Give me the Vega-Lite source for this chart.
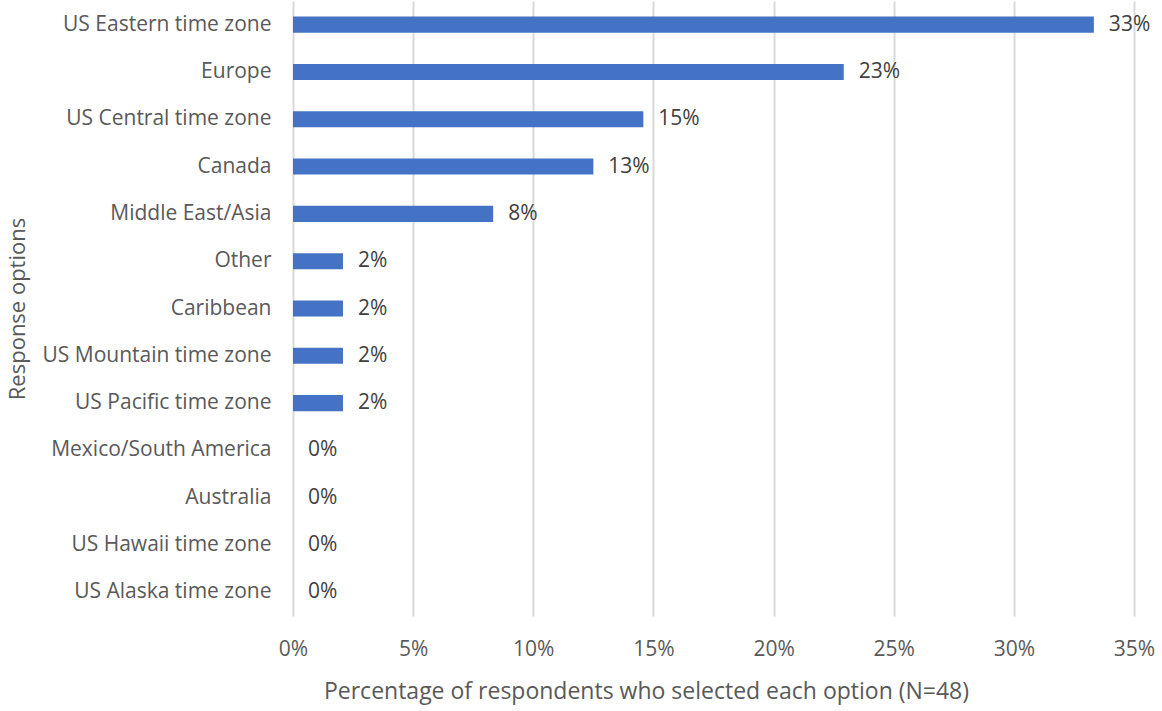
{
  "$schema": "https://vega.github.io/schema/vega-lite/v6.json",
  "autosize": "none",
  "width": 841,
  "height": 615,
  "padding": {"left": 293, "top": 1, "right": 28, "bottom": 95},
  "background": "white",
  "config": {
    "view": {"stroke": null},
    "font": "Open Sans",
    "axis": {"labelFont": "Open Sans", "titleFont": "Open Sans", "labelColor": "#595959", "titleColor": "#595959", "titleFontWeight": "normal"}
  },
  "data": {
    "values": [
      {"option": "US Eastern time zone", "pct": 0.3333},
      {"option": "Europe", "pct": 0.2292},
      {"option": "US Central time zone", "pct": 0.1458},
      {"option": "Canada", "pct": 0.125},
      {"option": "Middle East/Asia", "pct": 0.0833},
      {"option": "Other", "pct": 0.0208},
      {"option": "Caribbean", "pct": 0.0208},
      {"option": "US Mountain time zone", "pct": 0.0208},
      {"option": "US Pacific time zone", "pct": 0.0208},
      {"option": "Mexico/South America", "pct": 0},
      {"option": "Australia", "pct": 0},
      {"option": "US Hawaii time zone", "pct": 0},
      {"option": "US Alaska time zone", "pct": 0}
    ]
  },
  "encoding": {
    "y": {
      "field": "option", "type": "nominal", "sort": null,
      "scale": {"paddingInner": 0.66, "paddingOuter": 0.33},
      "axis": {"title": "Response options", "titleFontSize": 22, "labelFontSize": 21, "ticks": false, "domain": false, "labelPadding": 22, "titleX": -276, "titleAlign": "center", "titleBaseline": "middle", "labelLimit": 400}
    },
    "x": {
      "field": "pct", "type": "quantitative",
      "scale": {"domain": [0, 0.35], "nice": false},
      "axis": {"format": ".0%", "values": [0, 0.05, 0.1, 0.15, 0.2, 0.25, 0.3, 0.35], "labelFlush": false, "labelOverlap": false, "title": "Percentage of respondents who selected each option (N=48)", "titleFontSize": 23, "labelFontSize": 21, "ticks": false, "domain": false, "labelPadding": 22, "titleX": 353, "titleAlign": "center", "titleY": 75, "titleBaseline": "middle", "gridColor": "#d9d9d9", "gridWidth": 2}
    }
  },
  "layer": [
    {"mark": {"type": "bar", "color": "#4472C4"}},
    {"mark": {"type": "text", "align": "left", "dx": 15, "fontSize": 21, "color": "#404040", "font": "Open Sans"}, "encoding": {"text": {"field": "pct", "type": "quantitative", "format": ".0%"}}}
  ]
}
